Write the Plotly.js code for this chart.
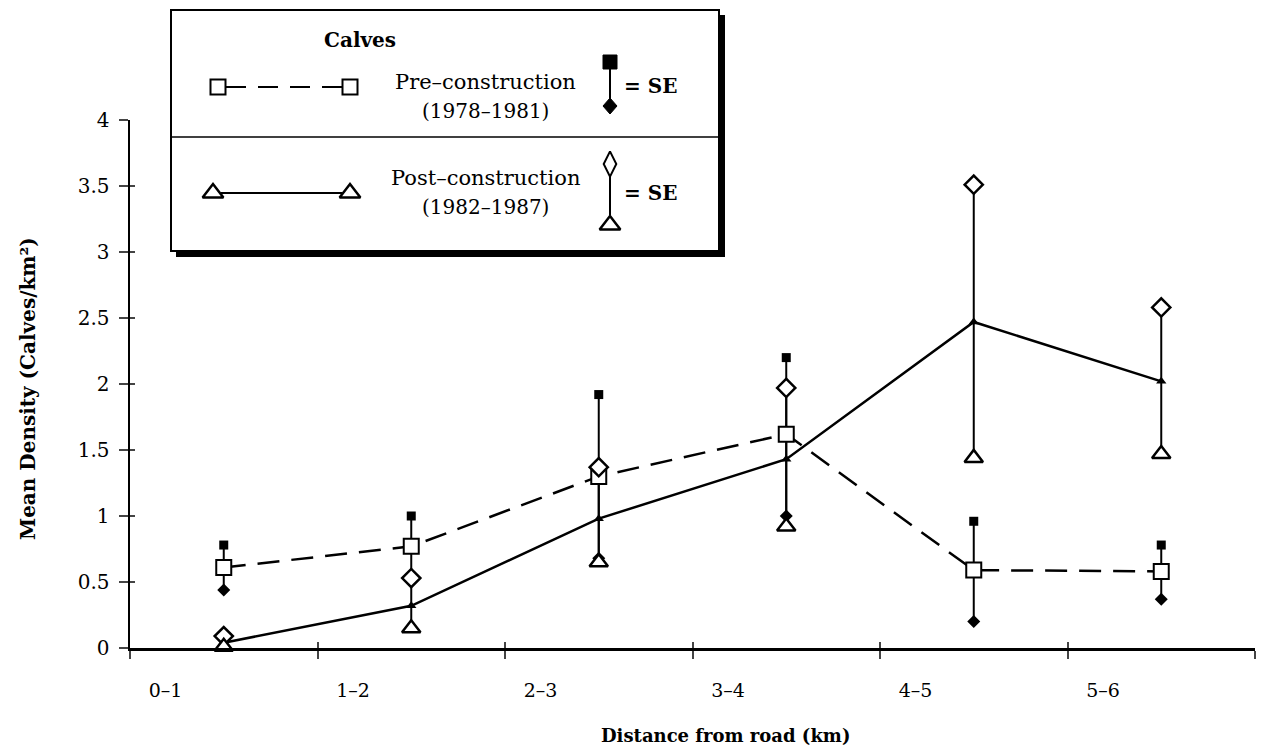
<!DOCTYPE html>
<html>
<head>
<meta charset="utf-8">
<script src="https://cdn.plot.ly/plotly-3.0.1.min.js"></script>
<style>html,body{margin:0;padding:0;background:#fff;}#chart{width:1262px;height:750px;}</style>
</head>
<body>
<div id="chart"></div>
<script>
// ---- data ----
const categories = ['0–1', '1–2', '2–3', '3–4', '4–5', '5–6'];
const preMean  = [0.61, 0.77, 1.30, 1.62, 0.59, 0.58];
const preUpper = [0.78, 1.00, 1.92, 2.20, 0.96, 0.78];
const preLower = [0.44, 0.55, 0.68, 1.00, 0.20, 0.37];
const postMean  = [0.04, 0.32, 0.98, 1.43, 2.47, 2.02];
const postUpper = [0.09, 0.53, 1.37, 1.97, 3.51, 2.58];
const postLower = [0.01, 0.15, 0.65, 0.92, 1.44, 1.47];
const yTicks = [0, 0.5, 1, 1.5, 2, 2.5, 3, 3.5, 4];

// ---- layout helpers ----
const W = 1262, H = 750;
const L = 130, R = 7, T = 120, B = 102;
const pw = W - L - R, ph = H - T - B;
const px = v => (v - L) / pw;          // pixel x -> paper
const py = v => (H - B - v) / ph;      // pixel y -> paper
const FONT = 'DejaVu Serif, Liberation Serif, serif';

const xs = categories.map((c, i) => i + 0.5);
const diff = (a, b) => a.map((v, i) => v - b[i]);

const traces = [
  // post-construction mean line with SE bars
  {x: xs, y: postMean, type: 'scatter', mode: 'lines+markers', xaxis: 'x', yaxis: 'y',
   line: {color: '#000', width: 2.5},
   marker: {symbol: 'triangle-up', size: 9, color: '#000'},
   error_y: {type: 'data', symmetric: false, array: diff(postUpper, postMean), arrayminus: diff(postMean, postLower),
             color: '#000', thickness: 2, width: 0},
   cliponaxis: false, showlegend: false},
  // pre-construction mean line with SE bars
  {x: xs, y: preMean, type: 'scatter', mode: 'lines', xaxis: 'x', yaxis: 'y',
   line: {color: '#000', width: 2.5, dash: '22px,12px'},
   error_y: {type: 'data', symmetric: false, array: diff(preUpper, preMean), arrayminus: diff(preMean, preLower),
             color: '#000', thickness: 2, width: 0},
   cliponaxis: false, showlegend: false},
  {x: xs, y: preMean, type: 'scatter', mode: 'markers', marker: {symbol: 'square', size: 15, color: '#fff', line: {color: '#000', width: 2}}, cliponaxis: false, showlegend: false},
  {x: xs, y: preUpper, type: 'scatter', mode: 'markers', marker: {symbol: 'square', size: 9, color: '#000'}, cliponaxis: false, showlegend: false},
  {x: xs, y: preLower, type: 'scatter', mode: 'markers', marker: {symbol: 'diamond', size: 10, color: '#000'}, cliponaxis: false, showlegend: false},
  {x: xs, y: postUpper, type: 'scatter', mode: 'markers', marker: {symbol: 'diamond', size: 14, color: '#fff', line: {color: '#000', width: 2.5}}, cliponaxis: false, showlegend: false},
  {x: xs, y: postLower, type: 'scatter', mode: 'markers', marker: {symbol: 'triangle-up', size: 16, color: '#fff', line: {color: '#000', width: 2.5}}, cliponaxis: false, showlegend: false},
  // legend symbols for the post-construction row (overlay axis in pixel units)
  {x: [213, 350], y: [193, 193], xaxis: 'x4', yaxis: 'y4', type: 'scatter', mode: 'markers',
   marker: {symbol: 'triangle-up', size: 18, color: '#fff', line: {color: '#000', width: 2.5}}, cliponaxis: false, showlegend: false},
  {x: [610], y: [164], xaxis: 'x4', yaxis: 'y4', type: 'scatter', mode: 'markers',
   marker: {symbol: 'diamond-tall', size: 18, color: '#fff', line: {color: '#000', width: 2}}, cliponaxis: false, showlegend: false},
  {x: [610], y: [225], xaxis: 'x4', yaxis: 'y4', type: 'scatter', mode: 'markers',
   marker: {symbol: 'triangle-up', size: 18, color: '#fff', line: {color: '#000', width: 2.5}}, cliponaxis: false, showlegend: false}
];

// square / diamond helpers for legend symbols above the plot area (pixel -> paper)
const sq = (cx, cy, h, fill, lw) => ({type: 'rect', xref: 'paper', yref: 'paper',
  x0: px(cx - h), x1: px(cx + h), y0: py(cy + h), y1: py(cy - h), fillcolor: fill,
  line: {color: '#000', width: lw}, layer: 'above'});
const dia = (cx, cy, hw, hh, fill) => ({type: 'path', xref: 'paper', yref: 'paper',
  path: `M ${px(cx)} ${py(cy - hh)} L ${px(cx + hw)} ${py(cy)} L ${px(cx)} ${py(cy + hh)} L ${px(cx - hw)} ${py(cy)} Z`,
  fillcolor: fill, line: {color: '#000', width: 1}, layer: 'above'});

const shapes = [
  // legend shadow and box
  {type: 'rect', xref: 'paper', yref: 'paper', x0: px(176), x1: px(725), y0: py(15), y1: py(257), fillcolor: '#000', line: {width: 0}, layer: 'below'},
  {type: 'rect', xref: 'paper', yref: 'paper', x0: px(171), x1: px(719), y0: py(10), y1: py(251), fillcolor: '#fff', line: {color: '#000', width: 2}, layer: 'below'},
  {type: 'line', xref: 'paper', yref: 'paper', x0: px(171), x1: px(719), y0: py(137), y1: py(137), line: {color: '#000', width: 1.5}, layer: 'below'},
  // legend lines
  {type: 'line', xref: 'paper', yref: 'paper', x0: px(226), x1: px(342), y0: py(87), y1: py(87), line: {color: '#000', width: 2, dash: '20px,12px'}, layer: 'below'},
  {type: 'line', xref: 'paper', yref: 'paper', x0: px(221), x1: px(342), y0: py(193), y1: py(193), line: {color: '#000', width: 2}, layer: 'below'},
  {type: 'line', xref: 'paper', yref: 'paper', x0: px(610), x1: px(610), y0: py(68), y1: py(100), line: {color: '#000', width: 2}, layer: 'below'},
  {type: 'line', xref: 'paper', yref: 'paper', x0: px(610), x1: px(610), y0: py(173), y1: py(215), line: {color: '#000', width: 2}, layer: 'below'},
  // legend symbols for the pre-construction row
  sq(218, 87, 7.5, '#fff', 2),
  sq(350, 87, 7.5, '#fff', 2),
  sq(610, 62, 7, '#000', 1),
  dia(610, 106, 7, 8, '#000')
];

const ann = (x, y, text, size, bold, xanchor) => ({
  xref: 'paper', yref: 'paper', x: px(x), y: py(y), text: bold ? '<b>' + text + '</b>' : text,
  showarrow: false, xanchor: xanchor || 'center', yanchor: 'middle',
  font: {family: FONT, size: size, color: '#000'}
});

const annotations = [
  ann(360, 40, 'Calves', 20, true),
  ann(485, 82, 'Pre–construction', 21),
  ann(485, 111, '(1978–1981)', 20),
  ann(622, 86, '= SE', 20, true, 'left'),
  ann(485, 178, 'Post–construction', 21),
  ann(485, 207, '(1982–1987)', 20),
  ann(622, 193, '= SE', 20, true, 'left'),
  ann(725, 735, 'Distance from road (km)', 18, true),
  {xref: 'paper', yref: 'paper', x: px(28), y: py(388), text: '<b>Mean Density (Calves/km²)</b>',
   textangle: -90, showarrow: false, xanchor: 'center', yanchor: 'middle',
   font: {family: FONT, size: 20, color: '#000'}}
];

const layout = {
  width: W, height: H,
  margin: {l: L, r: R, t: T, b: B},
  paper_bgcolor: '#fff', plot_bgcolor: '#fff',
  showlegend: false,
  font: {family: FONT, size: 19, color: '#000'},
  xaxis: {range: [0, 6], tickvals: [0, 1, 2, 3, 4, 5, 6], ticks: 'outside', ticklen: 8, tickwidth: 2,
          showticklabels: false, showgrid: false, zeroline: false, showline: true, linewidth: 2.5, linecolor: '#000', fixedrange: true},
  xaxis2: {overlaying: 'x', range: [0, 6], tickvals: categories.map((c, i) => i + 0.19), ticktext: categories,
           ticks: '', ticklabelstandoff: 29, showgrid: false, zeroline: false, showline: false, side: 'bottom',
           tickfont: {family: FONT, size: 19, color: '#000'}},
  xaxis3: {overlaying: 'x', range: [0, 6], tickvals: [0, 1, 2, 3, 4, 5, 6], ticks: 'inside', ticklen: 6, tickwidth: 2,
           showticklabels: false, showgrid: false, zeroline: false, showline: false, side: 'bottom'},
  yaxis: {range: [0, 4], tickvals: yTicks, ticktext: yTicks.map(String), ticks: 'outside', ticklen: 9, tickwidth: 2,
          showgrid: false, zeroline: false, showline: true, linewidth: 2.5, linecolor: '#000', ticklabelstandoff: 5,
          tickfont: {family: FONT, size: 20, color: '#000'}, fixedrange: true},
  yaxis3: {overlaying: 'y', range: [0, 4], tickvals: yTicks, ticks: 'inside', ticklen: 5, tickwidth: 2,
           showticklabels: false, showgrid: false, zeroline: false, showline: false},
  xaxis4: {overlaying: 'x', range: [L, W - R], visible: false},
  yaxis4: {overlaying: 'y', range: [H - B, T], visible: false},
  shapes: shapes,
  annotations: annotations
};

// dummy traces to activate overlay axes
traces.push({x: [0], y: [0], xaxis: 'x2', yaxis: 'y', mode: 'markers', marker: {opacity: 0}, showlegend: false, hoverinfo: 'skip'});
traces.push({x: [0], y: [0], xaxis: 'x3', yaxis: 'y3', mode: 'markers', marker: {opacity: 0}, showlegend: false, hoverinfo: 'skip'});

Plotly.newPlot('chart', traces, layout, {displayModeBar: false, staticPlot: true});
</script>
</body>
</html>
